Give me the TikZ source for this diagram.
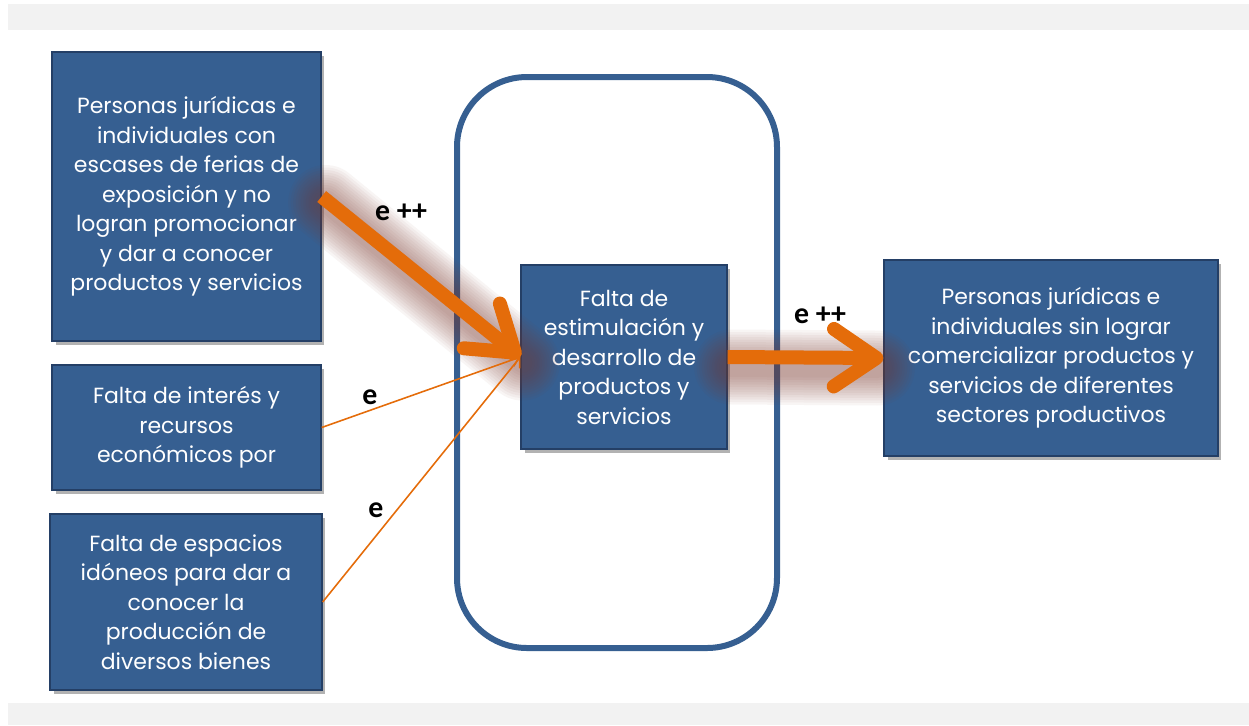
\documentclass[tikz,border=0pt]{standalone}
\usepackage{fontspec}
\setmainfont{Poppins}
\newfontfamily\labelfont{Carlito}
\usetikzlibrary{arrows.meta, shadows}

\definecolor{boxblue}{HTML}{365F91}
\definecolor{boxline}{HTML}{243F66}
\definecolor{arroworange}{HTML}{E46C0A}
\definecolor{glowbrown}{HTML}{7A3A30}
\definecolor{bandgrey}{HTML}{F2F2F2}

\begin{document}
\begin{tikzpicture}[x=0.02cm, y=-0.02cm,
    box/.style={draw=boxline, line width=0.8pt, fill=boxblue, text=white, align=center,
        font=\fontsize{12.5}{16.8}\selectfont,
        drop shadow={shadow xshift=2pt, shadow yshift=-2.5pt, fill=black, opacity=0.3}},
    bigarrow/.style={draw=arroworange, line width=0.28cm,
        -{Straight Barb[length=0.85cm, width=1.15cm, round]}},
    thinarrow/.style={draw=arroworange, line width=0.9pt,
        -{Straight Barb[length=1.6mm, width=2.6mm]}},
    glow/.style={draw=glowbrown, line cap=round, opacity=0.05},
    tag/.style={font=\labelfont\bfseries\fontsize{17}{20}\selectfont}]
    \useasboundingbox (0,0) rectangle (1249,725);
    \fill[bandgrey] (8,4) rectangle (1249,30);
    \fill[bandgrey] (8,703) rectangle (1249,725);
    \draw[boxblue, line width=0.12cm, rounded corners=1.4cm] (457,77) rectangle (777,648);
    \node[box, minimum width=5.38cm, minimum height=5.78cm] (perA) at (186.5,196.5)
        {Personas jurídicas e\\individuales con\\escases de ferias de\\exposición y no\\logran promocionar\\y dar a conocer\\productos y servicios};
    \node[box, minimum width=5.38cm, minimum height=2.5cm] (recB) at (186.5,427.5)
        {Falta de interés y\\recursos\\económicos por};
    \node[box, minimum width=5.44cm, minimum height=3.52cm] (espC) at (186,602)
        {Falta de espacios\\idóneos para dar a\\conocer la\\producción de\\diversos bienes};
    \node[box, minimum width=4.12cm, minimum height=3.68cm] (falta) at (624,357)
        {Falta de\\estimulación y\\desarrollo de\\productos y\\servicios};
    \node[box, minimum width=6.68cm, minimum height=3.92cm] (resE) at (1051,358)
        {Personas jurídicas e\\individuales sin lograr\\comercializar productos y\\servicios de diferentes\\sectores productivos};
    \foreach \w in {1.5,1.4,...,0.3} {
        \draw[glow, line width=\w cm] ([shift={(4,6)}]perA.east) -- ([shift={(2,6)}]falta.west);
        \draw[glow, line width=\w cm] ([shift={(4,10)}]falta.east) -- ([shift={(-6,10)}]resE.west);
    }
    \draw[bigarrow] (perA.east) -- (falta.west);
    \draw[bigarrow] (falta.east) -- (resE.west);
    \draw[thinarrow] (recB.east) -- (falta.west);
    \draw[thinarrow] (espC.east) -- (falta.west);
    \node[tag] (tagA) at (401,212) {e ++};
    \node[tag] (tagD) at (820,315) {e ++};
    \node[tag] (tagB) at (370,397) {e};
    \node[tag] (tagC) at (376,510) {e};
\end{tikzpicture}
\end{document}
